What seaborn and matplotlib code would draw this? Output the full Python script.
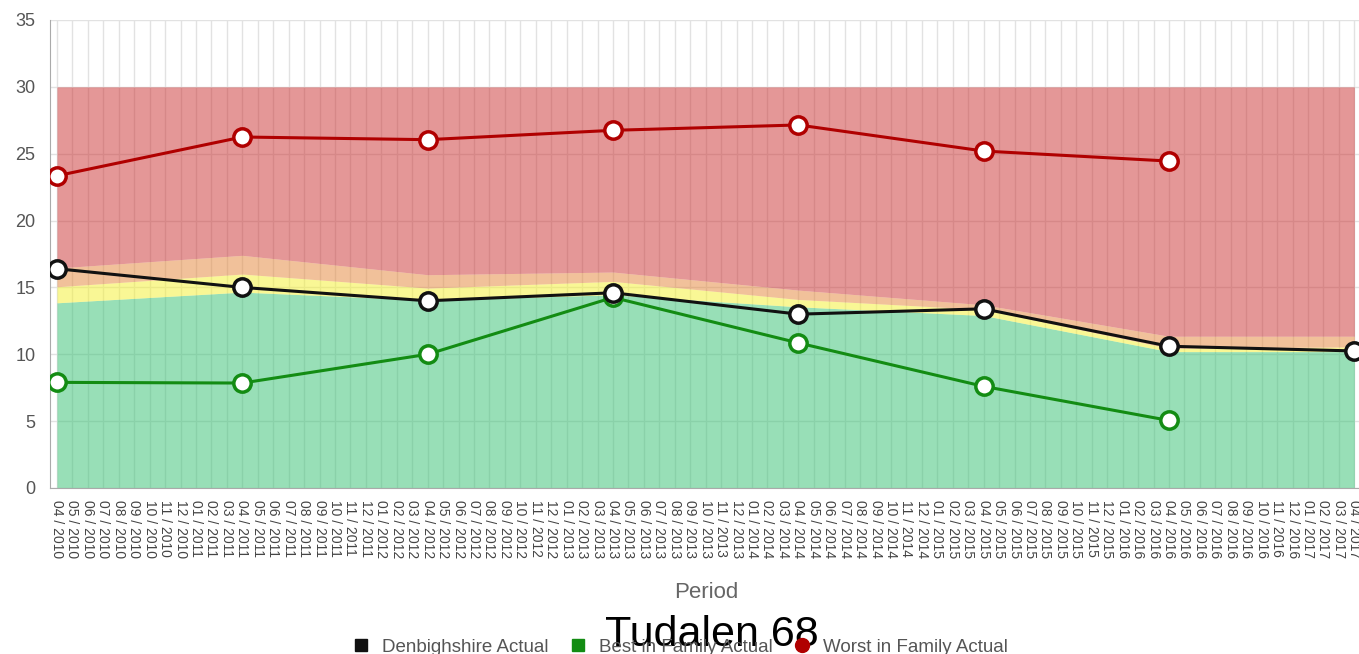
import pandas as pd
import matplotlib.pyplot as plt
import seaborn as sns
from matplotlib.lines import Line2D

sns.set_style('white')
plt.rcParams['font.family'] = ['Liberation Sans', 'DejaVu Sans']

# yearly points (April of each year)
years = [2010, 2011, 2012, 2013, 2014, 2015, 2016, 2017]
denbighshire = [16.4, 15.0, 14.0, 14.6, 13.0, 13.4, 10.6, 10.25]
best_family = [7.9, 7.85, 10.0, 14.25, 10.85, 7.6, 5.05]
worst_family = [23.35, 26.25, 26.05, 26.75, 27.15, 25.2, 24.45]

# quartile bands behind the lines
band_green = [13.85, 14.65, 14.05, 14.45, 13.55, 12.9, 10.2, 10.2]
band_yellow = [15.05, 16.0, 14.95, 15.45, 14.1, 13.35, 10.45, 10.55]
band_orange = [16.45, 17.4, 15.95, 16.15, 14.8, 13.7, 11.35, 11.35]
band_red = [30, 30, 30, 30, 30, 30, 30, 30]

# monthly period labels 04/2010 .. 04/2017
periods = []
for i in range(85):
    m = (3 + i) % 12 + 1
    y = 2010 + (3 + i) // 12
    periods.append(f'{m:02d} / {y}')

xpos = [periods.index(f'04 / {y}') for y in years]

fig = plt.figure(figsize=(13.59, 6.54), dpi=100)
ax = fig.add_axes([50 / 1359, 1 - 488 / 654, 1309 / 1359, 468 / 654])

ax.fill_between(xpos, 0, band_green, color='#33c171', alpha=0.5, lw=0)
ax.fill_between(xpos, band_green, band_yellow, color='#f5f12d', alpha=0.5, lw=0)
ax.fill_between(xpos, band_yellow, band_orange, color='#e58537', alpha=0.5, lw=0)
ax.fill_between(xpos, band_orange, band_red, color='#cb3030', alpha=0.5, lw=0)

lines = [
    (worst_family, '#b00000'),
    (best_family, '#138c13'),
    (denbighshire, '#111111'),
]
for vals, col in lines:
    df = pd.DataFrame({'x': xpos[:len(vals)], 'y': vals})
    sns.lineplot(data=df, x='x', y='y', ax=ax, color=col, linewidth=2.2,
                 marker='o', markersize=12.5, markerfacecolor='white',
                 markeredgecolor=col, markeredgewidth=2.5, zorder=5)

ax.set_xlim(-0.45, 84.3)
ax.set_ylim(0, 35)
ax.set_xticks(range(85))
ax.set_xticklabels(periods, rotation=-90, fontsize=10, color='#444444')
ax.set_yticks(range(0, 36, 5))
ax.tick_params(axis='y', labelsize=13, labelcolor='#555555', length=7, color='#cccccc')
ax.tick_params(axis='x', length=6, color='#cccccc', pad=3)
ax.grid(True, color='#e2e2e2', linewidth=1)
ax.set_axisbelow(True)
for s in ['top', 'right']:
    ax.spines[s].set_visible(False)
ax.spines['left'].set_color('#aaaaaa')
ax.spines['bottom'].set_color('#aaaaaa')
ax.set_xlabel('')
ax.set_ylabel('')

fig.text(706 / 1359, 1 - 593 / 654, 'Period', ha='center', va='center',
         fontsize=16, color='#666666')

handles = [
    Line2D([], [], marker='s', linestyle='', color='#111111', markersize=9),
    Line2D([], [], marker='s', linestyle='', color='#138c13', markersize=9),
    Line2D([], [], marker='o', linestyle='', color='#b00000', markersize=10),
]
fig.legend(handles, ['Denbighshire Actual', 'Best in Family Actual', 'Worst in Family Actual'],
           loc='center', bbox_to_anchor=(675 / 1359, 1 - 647 / 654), ncol=3,
           frameon=False, fontsize=13.5, labelcolor='#555555', handletextpad=0.1,
           columnspacing=0.6)

fig.text(712 / 1359, 1 - 635 / 654, 'Tudalen 68', ha='center', va='center',
         fontsize=31, color='black')

fig.savefig('out.png', dpi=100)
